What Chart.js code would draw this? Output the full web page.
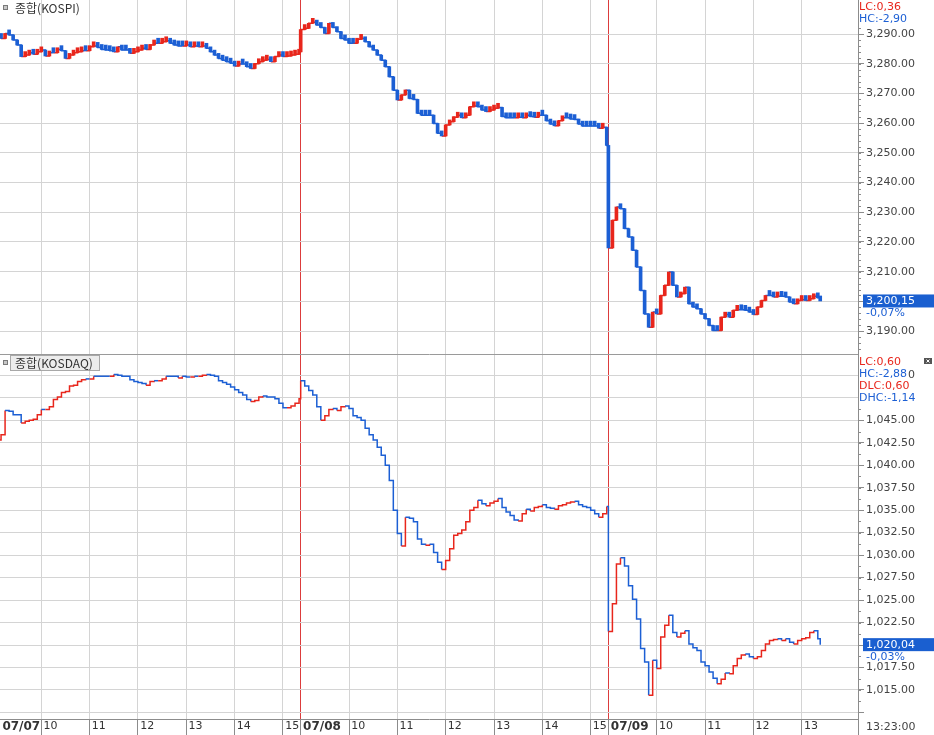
<!DOCTYPE html>
<html><head><meta charset="utf-8">
<script src="https://cdn.jsdelivr.net/npm/chart.js@4.4.1/dist/chart.umd.min.js"></script>
<style>
html,body{margin:0;padding:0;background:#fff;overflow:hidden}
#wrap{position:relative;width:934px;height:735px;background:#fff}
#cTop{position:absolute;left:0;top:0}
#cBot{position:absolute;left:0;top:355px}
</style></head><body>
<div id="wrap">
<canvas id="cTop" width="934" height="355"></canvas>
<canvas id="cBot" width="934" height="380"></canvas>
</div>
<script>
// ---------- data ----------
const SLOT = 382;           // minute slots per trading day on the axis
const STEP = 5;             // sampling step (minutes)
const dates = ['07/07', '07/08', '07/09'];
const hourLabels = [
  ['10', '11', '12', '13', '14', '15'],
  ['10', '11', '12', '13', '14', '15'],
  ['10', '11', '12', '13']
];
const lastTime = '13:23:00';
const kospiTicks = [3190, 3200, 3210, 3220, 3230, 3240, 3250, 3260, 3270, 3280, 3290];
const kosdaqTicks = [1012.5, 1015, 1017.5, 1020, 1022.5, 1025, 1027.5, 1030, 1032.5, 1035, 1037.5, 1040, 1042.5, 1045, 1047.5, 1050];

const kospiDay1 = [3289.0, 3289.5, 3288.5, 3290.2, 3289.7, 3288.0, 3286.3, 3282.4, 3282.9, 3283.7,
  3283.2, 3284.0, 3284.6, 3282.6, 3283.7, 3283.7, 3284.8, 3284.4, 3281.8, 3282.9,
  3283.7, 3284.0, 3284.4, 3284.4, 3285.7, 3286.0, 3285.5, 3284.8, 3284.6, 3284.4,
  3284.0, 3285.7, 3284.6, 3284.6, 3283.5, 3284.0, 3284.6, 3285.2, 3284.8, 3286.3,
  3286.9, 3286.9, 3287.4, 3287.7, 3286.9, 3286.3, 3286.0, 3286.0, 3286.3, 3285.7,
  3286.0, 3285.7, 3286.0, 3285.2, 3284.0, 3282.9, 3281.8, 3281.2, 3280.7, 3280.2,
  3279.2, 3279.9, 3279.9, 3279.0, 3278.4, 3280.0, 3280.7, 3281.2, 3281.4, 3280.7,
  3282.4, 3282.9, 3282.4, 3282.6, 3282.9, 3283.2, 3284.0];
const kospiDay2 = [3291.5, 3291.9, 3293.6, 3294.0, 3293.0, 3292.2, 3290.2, 3293.6, 3292.2, 3290.8,
  3288.5, 3288.0, 3286.9, 3286.9, 3288.2, 3288.5, 3287.4, 3285.7, 3284.6, 3282.9,
  3281.2, 3279.0, 3275.6, 3271.1, 3267.8, 3269.5, 3271.1, 3268.3, 3268.0, 3263.3,
  3262.7, 3262.7, 3262.7, 3259.9, 3256.6, 3255.7, 3259.4, 3260.5, 3262.0, 3262.7,
  3261.8, 3262.7, 3265.5, 3265.8, 3265.5, 3264.4, 3263.9, 3264.4, 3265.0, 3265.3,
  3262.2, 3261.8, 3261.8, 3261.8, 3262.0, 3261.8, 3262.7, 3262.2, 3262.0, 3262.7,
  3262.7, 3260.8, 3259.7, 3259.1, 3260.8, 3261.8, 3261.8, 3261.4, 3261.2, 3259.7,
  3259.0, 3259.0, 3259.0, 3259.0, 3258.3, 3258.6, 3252.5];
const kospiDay3 = [3218.0, 3227.3, 3231.8, 3231.2, 3224.5, 3221.7, 3217.2, 3211.6, 3203.7, 3195.8,
  3191.3, 3196.4, 3195.8, 3202.0, 3205.4, 3209.9, 3205.4, 3201.5, 3202.6, 3204.8,
  3199.2, 3198.1, 3197.5, 3195.8, 3194.2, 3191.9, 3190.2, 3190.2, 3194.7, 3195.6,
  3194.7, 3197.0, 3197.2, 3197.2, 3197.0, 3196.4, 3195.6, 3198.1, 3200.3, 3202.0,
  3202.0, 3201.5, 3201.7, 3201.7, 3201.5, 3199.8, 3199.2, 3200.3, 3200.6, 3200.3,
  3200.9, 3201.7, 3201.2, 3200.15];

const kosdaqDay1 = [1042.5, 1042.8, 1043.4, 1046.1, 1046.0, 1045.6, 1045.6, 1044.7, 1044.9, 1045.0,
  1045.1, 1045.6, 1046.2, 1046.2, 1046.5, 1047.3, 1047.6, 1048.1, 1048.2, 1048.8,
  1048.9, 1049.3, 1049.5, 1049.6, 1049.6, 1049.9, 1049.9, 1049.9, 1049.9, 1049.9,
  1050.1, 1050.0, 1049.9, 1049.9, 1049.5, 1049.3, 1049.2, 1049.1, 1048.9, 1049.3,
  1049.4, 1049.4, 1049.6, 1049.9, 1049.9, 1049.9, 1049.7, 1049.9, 1049.8, 1049.8,
  1049.9, 1049.9, 1050.0, 1050.1, 1050.0, 1049.9, 1049.4, 1049.2, 1049.0, 1048.7,
  1048.4, 1048.1, 1047.8, 1047.3, 1047.1, 1047.2, 1047.6, 1047.7, 1047.6, 1047.6,
  1047.4, 1046.9, 1046.4, 1046.4, 1046.6, 1046.9, 1047.4];
const kosdaqDay2 = [1049.4, 1048.8, 1048.3, 1047.8, 1046.5, 1045.0, 1045.5, 1046.2, 1046.3, 1046.1,
  1046.5, 1046.6, 1046.3, 1045.5, 1045.3, 1045.0, 1044.1, 1043.4, 1042.8, 1042.0,
  1041.1, 1040.0, 1038.3, 1035.0, 1032.4, 1031.0, 1034.2, 1034.1, 1033.7, 1031.8,
  1031.2, 1031.1, 1031.2, 1030.3, 1029.2, 1028.4, 1029.4, 1030.7, 1032.2, 1032.4,
  1032.8, 1033.7, 1035.0, 1035.3, 1036.1, 1035.7, 1035.5, 1035.8, 1036.0, 1036.3,
  1035.3, 1034.8, 1034.4, 1033.9, 1033.8, 1034.6, 1035.1, 1034.9, 1035.3, 1035.4,
  1035.6, 1035.3, 1035.2, 1035.1, 1035.5, 1035.6, 1035.8, 1035.9, 1036.0, 1035.6,
  1035.4, 1035.3, 1035.0, 1034.6, 1034.2, 1034.6, 1035.4];
const kosdaqDay3 = [1021.5, 1024.6, 1029.0, 1029.7, 1028.8, 1026.6, 1025.1, 1022.9, 1019.6, 1018.1,
  1014.4, 1018.3, 1017.4, 1020.9, 1022.2, 1023.3, 1021.4, 1020.9, 1021.3, 1021.6,
  1020.1, 1019.7, 1019.4, 1018.1, 1017.7, 1017.0, 1016.3, 1015.7, 1016.2, 1016.9,
  1016.8, 1017.7, 1018.5, 1018.9, 1019.0, 1018.7, 1018.5, 1018.7, 1019.4, 1020.1,
  1020.5, 1020.6, 1020.7, 1020.5, 1020.7, 1020.3, 1020.1, 1020.5, 1020.7, 1020.8,
  1021.4, 1021.6, 1020.7, 1020.04];

const kospiTitle = '종합(KOSPI)';
const kosdaqTitle = '종합(KOSDAQ)';
const kospiStats = ['LC:0,36', 'HC:-2,90'];
const kosdaqStats = ['LC:0,60', 'HC:-2,88', 'DLC:0,60', 'DHC:-1,14'];
const kospiLast = { value: 3200.15, text: '3,200,15', change: '-0,07%' };
const kosdaqLast = { value: 1020.04, text: '1,020,04', change: '-0,03%' };

// ---------- helpers ----------
const RED = '#e8261c', BLUE = '#1c5fd4';
const GRID = '#d4d4d4', AXIS = '#8c8c8c', DAYLINE = '#dc3c3c';
const NUMFONT = '11px "DejaVu Sans"';
const KRFONT = '12px "Noto Sans CJK KR"';
const X_MIN = 8.7, X_MAX = 1073.9;

const fullDayMinutes = [];
for (let m = 0; m <= 380; m += STEP) fullDayMinutes.push(m);
const day3Minutes = [];
for (let m = 0; m <= 260; m += STEP) day3Minutes.push(m);
day3Minutes.push(263);
const dayMinutes = [fullDayMinutes, fullDayMinutes, day3Minutes];

function buildPoints(days) {
  const pts = [];
  days.forEach((vals, d) => vals.forEach((v, i) => pts.push({ x: d * SLOT + dayMinutes[d][i], y: v })));
  return pts;
}
const kospiPts = buildPoints([kospiDay1, kospiDay2, kospiDay3]);
const kosdaqPts = buildPoints([kosdaqDay1, kosdaqDay2, kosdaqDay3]);

const kospiBars = kospiPts.map((p, i) => ({ x: p.x, y: [i ? kospiPts[i - 1].y : p.y, p.y] }));
const kospiColors = kospiBars.map(b => b.y[1] > b.y[0] ? RED : BLUE);

const tickDefs = [{ value: X_MIN, label: dates[0], date: true, edge: true }];
dates.forEach((d, di) => {
  if (di > 0) tickDefs.push({ value: di * SLOT, label: d, date: true });
  hourLabels[di].forEach(h => tickDefs.push({ value: di * SLOT + (parseInt(h, 10) - 9) * 60, label: h }));
});

function fmt(v) { return v.toLocaleString('en-US', { minimumFractionDigits: 2, maximumFractionDigits: 2 }); }

function xScale(showLabels) {
  return {
    type: 'linear', min: X_MIN, max: X_MAX, offset: false,
    afterBuildTicks: s => { s.ticks = tickDefs.map(t => ({ value: t.value })); },
    afterFit: s => { s.height = showLabels ? 16 : 1; s.paddingLeft = 0; s.paddingRight = 0; },
    border: { display: true, color: showLabels ? AXIS : '#9a9a9a', width: 1 },
    grid: {
      offset: false,
      drawTicks: showLabels,
      tickLength: 16,
      color: c => tickDefs[c.index] && tickDefs[c.index].edge ? 'rgba(0,0,0,0)' : (tickDefs[c.index] && tickDefs[c.index].date ? DAYLINE : GRID),
      tickColor: c => tickDefs[c.index] && tickDefs[c.index].edge ? 'rgba(0,0,0,0)' : AXIS
    },
    ticks: {
      display: showLabels, autoSkip: false, maxRotation: 0, minRotation: 0,
      align: 'start', padding: -15, color: '#333',
      callback: (v, i) => '\u2009' + tickDefs[i].label,
      font: c => (tickDefs[c.index] && tickDefs[c.index].date) ? { family: 'DejaVu Sans', size: 12, weight: 'bold' } : { family: 'DejaVu Sans', size: 11 }
    }
  };
}

function yScale(min, max, majors, hideIdx) {
  return {
    type: 'linear', position: 'right', min, max,
    afterBuildTicks: s => { s.ticks = majors.map(v => ({ value: v })); },
    afterFit: s => { s.width = 76; s.paddingTop = 0; s.paddingBottom = 0; },
    border: { display: true, color: AXIS },
    grid: { color: GRID, tickColor: AXIS, tickLength: 6 },
    ticks: {
      padding: 2, color: '#444', font: { family: 'DejaVu Sans', size: 11 },
      callback: (v, i) => hideIdx.includes(i) ? '' : fmt(v)
    }
  };
}

function minorTicks(chart, step) {
  const { ctx, chartArea, scales: { y } } = chart;
  ctx.save();
  ctx.strokeStyle = AXIS; ctx.lineWidth = 1;
  for (let v = Math.ceil(y.min / step) * step; v <= y.max; v += step) {
    const py = Math.round(y.getPixelForValue(v)) + 0.5;
    if (py < chartArea.top || py > chartArea.bottom) continue;
    ctx.beginPath(); ctx.moveTo(chartArea.right, py); ctx.lineTo(chartArea.right + 3, py); ctx.stroke();
  }
  ctx.restore();
}

function statsText(ctx, lines, x, y0, dy) {
  ctx.font = NUMFONT; ctx.textBaseline = 'middle'; ctx.textAlign = 'left';
  lines.forEach((t, i) => {
    const y = y0 + i * dy;
    const w = ctx.measureText(t).width;
    ctx.fillStyle = '#fff'; ctx.fillRect(x, y - 6, w + 1, 12);
    ctx.fillStyle = t.startsWith('L') || t.startsWith('DL') ? RED : BLUE;
    ctx.fillText(t, x, y);
  });
}

function lastBox(chart, last) {
  const { ctx, chartArea, scales: { y } } = chart;
  const py = y.getPixelForValue(last.value);
  ctx.save();
  ctx.fillStyle = '#1a5fd0';
  ctx.fillRect(chartArea.right + 5, py - 6.5, 71, 13);
  ctx.font = NUMFONT; ctx.textBaseline = 'middle'; ctx.textAlign = 'left';
  ctx.fillStyle = '#fff'; ctx.fillText(last.text, chartArea.right + 8, py);
  ctx.fillStyle = BLUE; ctx.fillText(last.change, chartArea.right + 8, py + 12.5);
  ctx.restore();
}

function titleIcon(ctx, x, y) {
  ctx.fillStyle = '#c8c8c8'; ctx.fillRect(x, y, 5, 5);
  ctx.strokeStyle = '#7a7a7a'; ctx.lineWidth = 1; ctx.strokeRect(x + 0.5, y + 0.5, 4, 4);
}

const topDecor = {
  id: 'topDecor',
  afterDraw(chart) {
    const { ctx, chartArea } = chart;
    minorTicks(chart, 2);
    ctx.save();
    titleIcon(ctx, 3, 5);
    ctx.font = KRFONT; ctx.fillStyle = '#333'; ctx.textBaseline = 'middle'; ctx.textAlign = 'left';
    ctx.fillText(kospiTitle, 15, 8.5);
    statsText(ctx, kospiStats, chartArea.right + 1, 7, 12);
    ctx.restore();
    lastBox(chart, kospiLast);
  }
};

const botDecor = {
  id: 'botDecor',
  afterDraw(chart) {
    const { ctx, chartArea, height } = chart;
    minorTicks(chart, 1.25);
    ctx.save();
    ctx.fillStyle = '#ececec'; ctx.fillRect(10, 0, 90, 16);
    ctx.strokeStyle = '#a8a8a8'; ctx.lineWidth = 1; ctx.strokeRect(10.5, 0.5, 89, 15);
    titleIcon(ctx, 3, 5);
    ctx.font = KRFONT; ctx.fillStyle = '#333'; ctx.textBaseline = 'middle'; ctx.textAlign = 'left';
    ctx.fillText(kosdaqTitle, 15, 8);
    statsText(ctx, kosdaqStats, chartArea.right + 1, 7.3, 11.8);
    ctx.fillStyle = '#555'; ctx.fillRect(924, 3, 8, 6);
    ctx.strokeStyle = '#fff'; ctx.lineWidth = 1;
    ctx.beginPath(); ctx.moveTo(926.5, 4.5); ctx.lineTo(929.5, 7.5); ctx.moveTo(929.5, 4.5); ctx.lineTo(926.5, 7.5); ctx.stroke();
    ctx.strokeStyle = AXIS;
    ctx.beginPath(); ctx.moveTo(chartArea.right + 0.5, chartArea.bottom); ctx.lineTo(chartArea.right + 0.5, height); ctx.stroke();
    ctx.font = NUMFONT; ctx.fillStyle = '#444'; ctx.textBaseline = 'middle';
    ctx.fillText(lastTime, chartArea.right + 8, chartArea.bottom + 8);
    ctx.restore();
    lastBox(chart, kosdaqLast);
  }
};

Chart.defaults.font.family = 'DejaVu Sans';

new Chart(document.getElementById('cTop'), {
  type: 'bar',
  data: {
    datasets: [{
      type: 'line',
      data: kospiPts,
      stepped: 'before', borderWidth: 1.5, pointRadius: 0, fill: false,
      borderColor: BLUE,
      segment: { borderColor: s => s.p1.parsed.y > s.p0.parsed.y ? RED : BLUE },
      order: 2
    }, {
      data: kospiBars,
      backgroundColor: c => kospiColors[c.dataIndex],
      barThickness: 3, minBarLength: 5, borderWidth: 0,
      order: 1
    }]
  },
  options: {
    responsive: false, animation: false, devicePixelRatio: 1,
    layout: { padding: 0 },
    plugins: { legend: { display: false }, tooltip: { enabled: false } },
    scales: {
      x: xScale(false),
      y: yScale(3182.3, 3301.45, kospiTicks, [])
    }
  },
  plugins: [topDecor]
});

new Chart(document.getElementById('cBot'), {
  type: 'line',
  data: {
    datasets: [{
      data: kosdaqPts,
      stepped: 'before', borderWidth: 1.5, pointRadius: 0, fill: false,
      borderColor: BLUE,
      segment: { borderColor: s => s.p1.parsed.y > s.p0.parsed.y ? RED : BLUE }
    }]
  },
  options: {
    responsive: false, animation: false, devicePixelRatio: 1,
    layout: { padding: 0 },
    plugins: { legend: { display: false }, tooltip: { enabled: false } },
    scales: {
      x: xScale(true),
      y: yScale(1011.77, 1052.26, kosdaqTicks, [0])
    }
  },
  plugins: [botDecor]
});
</script>
</body></html>
